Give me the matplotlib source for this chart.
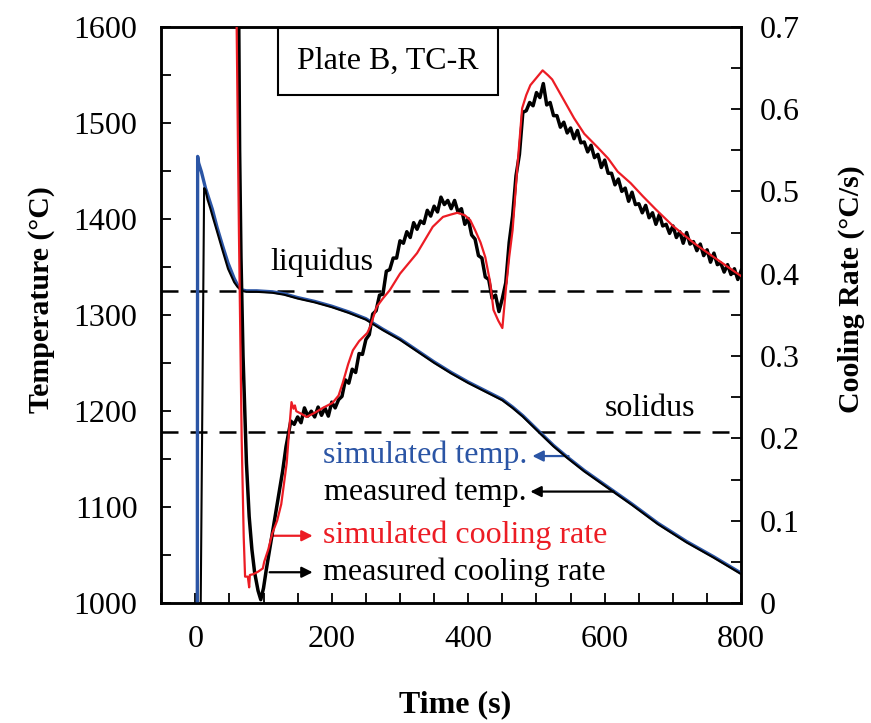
import matplotlib
matplotlib.use("Agg")
import matplotlib.pyplot as plt
from matplotlib.ticker import MultipleLocator

plt.rcParams['font.family'] = ['Liberation Serif', 'DejaVu Serif']

# ---------------- data ----------------
# simulated temperature (left axis)
t_sim_T = [3, 3.5, 5, 9, 15, 25, 32, 40, 48, 57, 62, 68, 75, 90, 113, 130, 150, 175, 200, 225,
           250, 275, 300, 325, 350, 375, 400, 425, 450, 465, 480, 506, 525, 545, 570, 600,
           640, 678, 720, 760, 800]
T_sim = [1000, 1465, 1458, 1449, 1432, 1410, 1391, 1372, 1354, 1338, 1331, 1326, 1325, 1325,
         1324, 1322, 1318, 1314, 1309, 1303, 1296, 1285, 1275, 1263, 1251, 1240, 1230, 1221,
         1212, 1204, 1195, 1177, 1164, 1152, 1138, 1123, 1103, 1083, 1064, 1048, 1031]

# measured temperature (left axis)
t_meas_T = [8, 13, 15, 18, 22, 26, 31, 40, 48, 57, 62, 68, 75, 90, 113, 130, 150, 175, 200, 225,
            250, 275, 300, 325, 350, 375, 400, 425, 450, 465, 480, 506, 525, 545, 570, 600,
            640, 678, 720, 760, 800]
T_meas = [1000, 1432, 1430, 1420, 1411, 1401, 1389, 1367, 1348, 1334, 1329, 1325, 1324, 1324,
          1323, 1321, 1317, 1313, 1308, 1302, 1295, 1284, 1274, 1262, 1250, 1239, 1229, 1220,
          1211, 1203, 1194, 1176, 1163, 1151, 1137, 1122, 1102, 1082, 1063, 1047, 1030]

# simulated cooling rate (right axis)
t_sim_CR = [58, 60, 64, 68, 71, 73, 77, 79, 80, 85, 92, 99, 101, 107, 113, 120, 126, 130, 134,
            138, 141, 144, 146, 148, 155, 163, 175, 187, 201, 210, 216, 224, 231, 240, 246, 252,
            256, 260, 266, 275, 285, 300, 325, 348, 363, 375, 384, 395, 403, 410, 418, 425, 432,
            437, 444, 450, 455, 460, 465, 472, 479, 485, 491, 500, 509, 517, 523, 538, 555, 570,
            589, 605, 619, 638, 656, 675, 700, 731, 760, 793, 800]
CR_sim = [0.90, 0.75, 0.45, 0.20, 0.08, 0.032, 0.032, 0.019, 0.034, 0.035, 0.038, 0.042, 0.050,
          0.065, 0.085, 0.100, 0.120, 0.145, 0.170, 0.214, 0.244, 0.236, 0.240, 0.233, 0.230,
          0.226, 0.231, 0.237, 0.243, 0.252, 0.267, 0.290, 0.307, 0.318, 0.323, 0.328, 0.335,
          0.345, 0.360, 0.370, 0.380, 0.400, 0.425, 0.457, 0.469, 0.472, 0.474, 0.471, 0.465,
          0.453, 0.438, 0.420, 0.390, 0.356, 0.343, 0.334, 0.380, 0.420, 0.453, 0.530, 0.601,
          0.617, 0.629, 0.638, 0.647, 0.641, 0.636, 0.614, 0.589, 0.570, 0.554, 0.540, 0.524,
          0.510, 0.494, 0.478, 0.458, 0.437, 0.420, 0.401, 0.397]

# measured cooling rate (right axis)
t_meas_CR = [63, 65, 67, 70, 75, 79, 83, 87, 92, 96, 100, 104, 108, 113, 120, 128, 133, 137,
             140, 145, 150, 155, 160, 165, 170, 175, 180, 185, 190, 195, 200, 205, 210, 215,
             220, 225, 230, 235, 240, 245, 250, 255, 260, 265, 270, 275, 280, 285, 290, 295,
             300, 305, 310, 315, 320, 325, 330, 335, 340, 345, 350, 355, 360, 365, 370, 375,
             380, 385, 390, 395, 400, 405, 410, 415, 420, 425, 430, 435, 440, 445, 450, 455,
             460, 465, 470, 475, 480, 485, 490, 495, 500, 505, 510, 515, 520, 525, 530, 535,
             540, 545, 550, 555, 560, 565, 570, 575, 580, 585, 590, 595, 600, 605, 610, 615,
             620, 625, 630, 635, 640, 645, 650, 655, 660, 665, 670, 675, 680, 685, 690, 695,
             700, 705, 710, 715, 720, 725, 730, 735, 740, 745, 750, 755, 760, 765, 770, 775,
             780, 785, 790, 795, 800]
CR_meas = [0.80, 0.55, 0.42, 0.30, 0.17, 0.105, 0.065, 0.037, 0.015, 0.004, 0.018, 0.040, 0.060,
           0.085, 0.120, 0.160, 0.190, 0.208,
           0.221, 0.217, 0.226, 0.219, 0.237, 0.227, 0.233, 0.226, 0.238, 0.228, 0.237, 0.227,
           0.244, 0.237, 0.247, 0.251, 0.271, 0.267, 0.284, 0.280, 0.303, 0.302, 0.320, 0.326,
           0.351, 0.355, 0.374, 0.375, 0.403, 0.405, 0.419, 0.419, 0.440, 0.437, 0.451, 0.444,
           0.462, 0.454, 0.464, 0.461, 0.477, 0.470, 0.482, 0.475, 0.493, 0.484, 0.489, 0.479,
           0.489, 0.475, 0.479, 0.460, 0.467, 0.447, 0.442, 0.422, 0.419, 0.396, 0.393, 0.370,
           0.374, 0.354, 0.370, 0.389, 0.438, 0.470, 0.519, 0.545, 0.596, 0.598, 0.608, 0.604,
           0.620, 0.614, 0.631, 0.605, 0.608, 0.592, 0.592, 0.578, 0.584, 0.571, 0.577, 0.564,
           0.574, 0.559, 0.560, 0.548, 0.556, 0.541, 0.545, 0.529, 0.538, 0.522, 0.522, 0.508,
           0.515, 0.500, 0.504, 0.488, 0.499, 0.484, 0.485, 0.474, 0.483, 0.468, 0.474, 0.460,
           0.472, 0.458, 0.460, 0.449, 0.458, 0.444, 0.451, 0.437, 0.450, 0.436, 0.439, 0.428,
           0.436, 0.422, 0.429, 0.414, 0.425, 0.411, 0.413, 0.402, 0.411, 0.399, 0.406, 0.393,
           0.404]

liquidus_T = 1325
solidus_T = 1178

x_ticks = [0, 200, 400, 600, 800]
T_ticks = [1000, 1100, 1200, 1300, 1400, 1500, 1600]
CR_ticks = [0, 0.1, 0.2, 0.3, 0.4, 0.5, 0.6, 0.7]
CR_tick_labels = ['0', '0.1', '0.2', '0.3', '0.4', '0.5', '0.6', '0.7']

BLUE = '#2B55A5'
RED = '#EC1C24'
FS = 23
FS_LAB = 21.5

# ---------------- figure ----------------
fig = plt.figure(figsize=(8.71, 7.23), dpi=100)
ax = fig.add_axes([0.185, 0.166, 0.666, 0.797])
ax2 = ax.twinx()

ax.plot(t_sim_T, T_sim, color=BLUE, lw=2.4, zorder=3)
ax.plot(t_meas_T, T_meas, color='black', lw=1.5, zorder=4)
ax.axhline(liquidus_T, color='black', lw=1.8, dashes=(6.8, 4.8), zorder=2)
ax.axhline(solidus_T, color='black', lw=1.8, dashes=(6.8, 4.8), zorder=2)

ax2.plot(t_meas_CR, CR_meas, color='black', lw=2.5, zorder=3)
ax2.plot(t_sim_CR, CR_sim, color=RED, lw=1.6, zorder=4)

ax.set_xlim(-50, 800)
ax.set_ylim(1000, 1600)
ax2.set_ylim(0, 0.7)

ax.set_xticks(x_ticks)
ax.xaxis.set_minor_locator(MultipleLocator(50))
ax.set_yticks(T_ticks)
ax.yaxis.set_minor_locator(MultipleLocator(50))
ax2.set_yticks(CR_ticks)
ax2.set_yticklabels(CR_tick_labels)
ax2.yaxis.set_minor_locator(MultipleLocator(0.05))

ax.tick_params(axis='both', which='both', direction='in', length=7.5, width=1.3,
               labelsize=FS, top=False, right=False)
ax.tick_params(axis='y', which='both', pad=17)
ax.tick_params(axis='x', which='both', pad=16)
ax2.tick_params(axis='y', which='both', direction='in', length=7.5, width=1.3,
                labelsize=FS, pad=13)

for a in (ax, ax2):
    for s in a.spines.values():
        s.set_linewidth(1.8)

ax.set_xlabel('Time (s)', fontsize=FS, fontweight='bold')
ax.set_ylabel('Temperature (°C)', fontsize=FS_LAB, fontweight='bold')
ax2.set_ylabel('Cooling Rate (°C/s)', fontsize=FS_LAB, fontweight='bold')
ax.xaxis.set_label_coords(0.507, -0.152)
ax.yaxis.set_label_coords(-0.183, 0.526)
ax2.yaxis.set_label_coords(1.166, 0.545)

# texts
ax.text(282, 1564, 'Plate B, TC-R', fontsize=FS, ha='center', va='center',
        bbox=dict(boxstyle='square,pad=0.6', fc='white', ec='black', lw=1.5), zorder=6)
ax.text(185, 1355, 'liquidus', fontsize=FS, ha='center', va='center')
ax.text(666, 1203, 'solidus', fontsize=FS, ha='center', va='center')

ax.text(187, 1154, 'simulated temp.', fontsize=FS, color=BLUE, ha='left', va='center', zorder=6)
ax.text(189, 1115, 'measured temp.', fontsize=FS, color='black', ha='left', va='center', zorder=6)
ax.text(187, 1071, 'simulated cooling rate', fontsize=FS, color=RED, ha='left', va='center', zorder=6)
ax.text(187, 1032, 'measured cooling rate', fontsize=FS, color='black', ha='left', va='center', zorder=6)

arr = dict(arrowstyle='-|>', lw=1.6, mutation_scale=16, shrinkA=0, shrinkB=0)
ax.annotate('', xy=(494, 1153), xytext=(547, 1153), arrowprops=dict(arr, color=BLUE))
ax.annotate('', xy=(491, 1116), xytext=(613, 1116), arrowprops=dict(arr, color='black'))
ax.annotate('', xy=(172, 1070), xytext=(113, 1070), arrowprops=dict(arr, color=RED))
ax.annotate('', xy=(172, 1032), xytext=(109, 1032), arrowprops=dict(arr, color='black'))

fig.savefig('out.png', dpi=100)
